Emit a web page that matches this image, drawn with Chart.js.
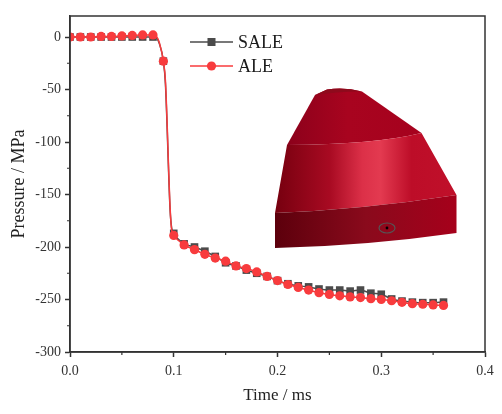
<!DOCTYPE html>
<html>
<head>
<meta charset="utf-8">
<script src="https://cdn.jsdelivr.net/npm/chart.js@4.4.1/dist/chart.umd.min.js"></script>
<style>
  html, body { margin: 0; padding: 0; background: #fff; }
  #wrap { width: 502px; height: 414px; }
</style>
</head>
<body>
<div id="wrap"><canvas id="pressureChart" width="502" height="414"></canvas></div>
<script>
// marker times (ms)
const markerTime = [0.00, 0.01, 0.02, 0.03, 0.04, 0.05, 0.06, 0.07, 0.08, 0.09,
                    0.10, 0.11, 0.12, 0.13, 0.14, 0.15, 0.16, 0.17, 0.18, 0.19,
                    0.20, 0.21, 0.22, 0.23, 0.24, 0.25, 0.26, 0.27, 0.28, 0.29,
                    0.30, 0.31, 0.32, 0.33, 0.34, 0.35, 0.36];

// pressure at markers (MPa)
const saleMarkers = [0, 0, 0, 0, 0, 0, 0, 0, 0, -23,
                     -187, -197, -200, -204, -209, -215, -218, -222, -225, -228,
                     -232, -235, -237, -238, -240, -241, -241, -242, -241, -244,
                     -245, -249.5, -251.5, -252.5, -253, -253, -252.5];
const aleMarkers = [0, 0, 0, 0.5, 0.5, 1, 1.5, 2, 2, -23,
                    -189, -198, -202.5, -207, -210.5, -213.5, -218, -220.5, -223.7, -228,
                    -232, -235.7, -238.5, -241, -243.5, -245.2, -246.5, -247.5, -248.2, -249.2,
                    -250, -251.2, -252.7, -254, -254.5, -255.2, -255.6];

// extra curve points through the pressure drop (no marker)
const dropTime = [0.083, 0.086, 0.092, 0.0965, 0.098];
const saleDrop = [-0.5, -6, -45, -165, -182];
const aleDrop  = [1, -5, -42, -163, -184];

const xTicks = [0, 0.1, 0.2, 0.3, 0.4];
const yTicks = [0, -50, -100, -150, -200, -250, -300];
const xMinor = [0.05, 0.15, 0.25, 0.35];
const yMinor = [-25, -75, -125, -175, -225, -275];

const SALE_COLOR = '#4b4b4b';
const ALE_COLOR = '#f83b3d';
const SERIF = '"Liberation Serif", "DejaVu Serif", serif';

function buildSeries(marks, extra) {
    let pts = [];
    markerTime.forEach(function (t, i) { pts.push({ x: t, y: marks[i], m: true }); });
    dropTime.forEach(function (t, i) { pts.push({ x: t, y: extra[i], m: false }); });
    pts.sort(function (a, b) { return a.x - b.x; });
    return pts;
}

// frame, minor ticks, legend and the cone inset
const decorPlugin = {
    id: 'decor',
    afterDatasetsDraw: function (chart) {
        drawCone(chart.ctx);
    },
    afterDraw: function (chart) {
        const ctx = chart.ctx;
        const a = chart.chartArea;
        const xs = chart.scales.x, ys = chart.scales.y;
        ctx.save();
        ctx.strokeStyle = '#333';
        ctx.lineWidth = 1.5;
        ctx.strokeRect(a.left, a.top, a.right - a.left, a.bottom - a.top);

        ctx.lineWidth = 1.2;
        ctx.beginPath();
        xMinor.forEach(function (v) {
            const px = xs.getPixelForValue(v);
            ctx.moveTo(px, a.bottom);
            ctx.lineTo(px, a.bottom + 3);
        });
        yMinor.forEach(function (v) {
            const py = ys.getPixelForValue(v);
            ctx.moveTo(a.left, py);
            ctx.lineTo(a.left - 3, py);
        });
        ctx.stroke();

        // legend
        const lx = a.left + 120, ly = a.top + 26;
        chart.data.datasets.forEach(function (ds, i) {
            const y = ly + i * 24;
            ctx.strokeStyle = ds.borderColor;
            ctx.lineWidth = 1.5;
            ctx.beginPath();
            ctx.moveTo(lx, y);
            ctx.lineTo(lx + 43, y);
            ctx.stroke();
            ctx.fillStyle = ds.backgroundColor;
            if (ds.pointStyle === 'rect') {
                ctx.fillRect(lx + 21.5 - 4, y - 4, 8, 8);
            } else {
                ctx.beginPath();
                ctx.arc(lx + 21.5, y, 4.6, 0, Math.PI * 2);
                ctx.fill();
            }
            ctx.fillStyle = '#1a1a1a';
            ctx.font = '18px ' + SERIF;
            ctx.textBaseline = 'middle';
            ctx.textAlign = 'left';
            ctx.fillText(ds.label, lx + 48, y + 1);
        });
        ctx.restore();
    }
};

function drawCone(ctx) {
    ctx.save();
    // top section
    let g1 = ctx.createLinearGradient(275, 0, 457, 0);
    g1.addColorStop(0, '#86001a');
    g1.addColorStop(0.4, '#a8041f');
    g1.addColorStop(1, '#a5001d');
    ctx.fillStyle = g1;
    ctx.beginPath();
    ctx.moveTo(315, 95);
    ctx.lineTo(327, 89.5);
    ctx.quadraticCurveTo(345, 87, 362, 91.5);
    ctx.lineTo(421.5, 133);
    ctx.quadraticCurveTo(375.7, 144.4, 287, 145);
    ctx.closePath();
    ctx.fill();
    // cap
    ctx.fillStyle = '#8e0a1c';
    ctx.beginPath();
    ctx.moveTo(315, 95);
    ctx.lineTo(327, 89.5);
    ctx.quadraticCurveTo(345, 87, 362, 91.5);
    ctx.quadraticCurveTo(340, 91, 315, 95);
    ctx.fill();
    // middle section
    let g2 = ctx.createLinearGradient(275, 0, 457, 0);
    g2.addColorStop(0, '#76000f');
    g2.addColorStop(0.3, '#a80a22');
    g2.addColorStop(0.48, '#dc3048');
    g2.addColorStop(0.58, '#e33a50');
    g2.addColorStop(0.75, '#bd0d28');
    g2.addColorStop(1, '#c0102a');
    ctx.fillStyle = g2;
    ctx.beginPath();
    ctx.moveTo(287, 145);
    ctx.quadraticCurveTo(375.7, 144.4, 421.5, 133);
    ctx.lineTo(456.5, 195);
    ctx.quadraticCurveTo(364.2, 209.4, 275, 213);
    ctx.closePath();
    ctx.fill();
    // bottom band
    let g3 = ctx.createLinearGradient(275, 0, 457, 0);
    g3.addColorStop(0, '#5c000c');
    g3.addColorStop(0.5, '#8a0a1c');
    g3.addColorStop(1, '#a6001b');
    ctx.fillStyle = g3;
    ctx.beginPath();
    ctx.moveTo(275, 213);
    ctx.quadraticCurveTo(364.2, 209.4, 456.5, 195);
    ctx.lineTo(456.5, 233);
    ctx.quadraticCurveTo(364.2, 246.1, 275, 248);
    ctx.closePath();
    ctx.fill();
    // gauge point
    ctx.strokeStyle = '#555';
    ctx.lineWidth = 1.2;
    ctx.beginPath();
    ctx.ellipse(387, 228, 8, 5, 0, 0, Math.PI * 2);
    ctx.stroke();
    ctx.fillStyle = '#000';
    ctx.beginPath();
    ctx.arc(387, 228, 1.4, 0, Math.PI * 2);
    ctx.fill();
    ctx.restore();
}

const pointSize = function (r) {
    return function (c) { return c.raw && c.raw.m ? r : 0; };
};

new Chart(document.getElementById('pressureChart'), {
    type: 'line',
    data: {
        datasets: [{
            label: 'SALE',
            data: buildSeries(saleMarkers, saleDrop),
            borderColor: SALE_COLOR,
            backgroundColor: SALE_COLOR,
            borderWidth: 1.5,
            pointStyle: 'rect',
            pointRadius: pointSize(5.4),
            pointBorderWidth: 0,
            cubicInterpolationMode: 'monotone',
            order: 1
        }, {
            label: 'ALE',
            data: buildSeries(aleMarkers, aleDrop),
            borderColor: ALE_COLOR,
            backgroundColor: ALE_COLOR,
            borderWidth: 1.5,
            pointStyle: 'circle',
            pointRadius: pointSize(4.6),
            pointBorderWidth: 0,
            cubicInterpolationMode: 'monotone',
            order: 0
        }]
    },
    options: {
        responsive: false,
        animation: false,
        layout: { padding: { top: 16, right: 17, left: 0, bottom: 0 } },
        plugins: {
            legend: { display: false },
            tooltip: { enabled: false }
        },
        scales: {
            x: {
                type: 'linear',
                min: 0,
                max: 0.4,
                afterFit: function (s) { s.height = 62; },
                afterBuildTicks: function (s) { s.ticks = xTicks.map(function (v) { return { value: v }; }); },
                grid: { drawOnChartArea: false, drawTicks: true, tickLength: 5, tickColor: '#333', tickWidth: 1.5 },
                border: { display: true, color: '#333', width: 1.5 },
                ticks: {
                    padding: 6,
                    color: '#333',
                    font: { family: SERIF, size: 14 },
                    callback: function (v) { return v.toFixed(1); }
                },
                title: {
                    display: true,
                    text: 'Time / ms',
                    color: '#222',
                    font: { family: SERIF, size: 17 },
                    padding: { top: 4, bottom: 8 }
                }
            },
            y: {
                min: -300,
                max: 20,
                afterFit: function (s) { s.width = 70; },
                afterBuildTicks: function (s) { s.ticks = yTicks.map(function (v) { return { value: v }; }); },
                grid: { drawOnChartArea: false, drawTicks: true, tickLength: 5, tickColor: '#333', tickWidth: 1.5 },
                border: { display: true, color: '#333', width: 1.5 },
                ticks: {
                    padding: 4,
                    color: '#333',
                    font: { family: SERIF, size: 14 },
                    callback: function (v) { return String(v); }
                },
                title: {
                    display: true,
                    text: 'Pressure / MPa',
                    color: '#222',
                    font: { family: SERIF, size: 18 },
                    padding: { top: 8, bottom: 4 }
                }
            }
        }
    },
    plugins: [decorPlugin]
});
</script>
</body>
</html>
